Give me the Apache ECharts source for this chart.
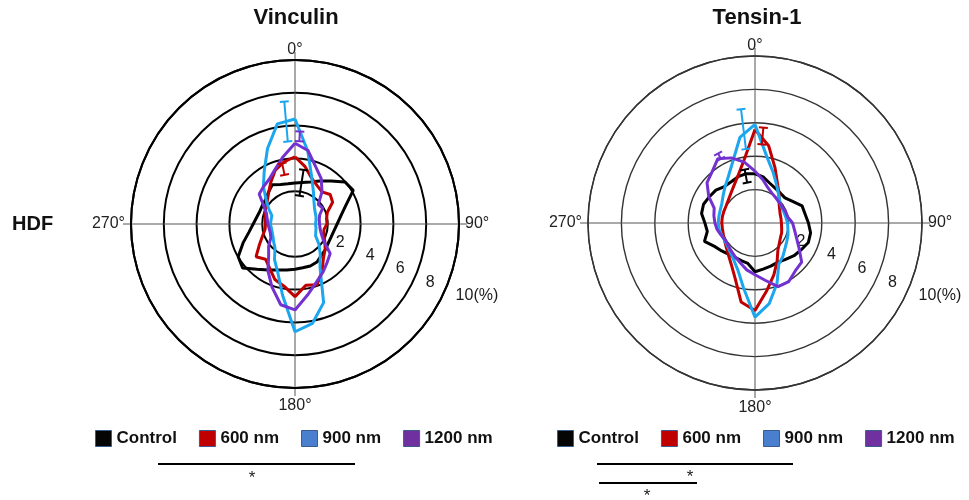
<!DOCTYPE html>
<html><head><meta charset="utf-8">
<script src="https://cdn.jsdelivr.net/npm/echarts@6/dist/echarts.min.js"></script>
<style>html,body{margin:0;padding:0;background:#fff}#c{width:969px;height:500px}</style>
</head><body><div id="c"></div>
<script>
// ---------- data ----------
const angles = [0,10,20,30,40,50,60,70,80,90,100,110,120,130,140,150,160,170,180,190,200,210,220,230,240,250,260,270,280,290,300,310,320,330,340,350];
const seriesNames = ['Control','600 nm','900 nm','1200 nm'];

// Vinculin (percent at each angle)
const vinControl = [2.50,2.57,2.72,3.03,3.42,3.98,4.10,3.29,2.84,2.57,2.41,2.34,2.34,2.42,2.50,2.68,2.73,2.71,2.76,2.85,2.98,3.24,3.60,4.17,4.00,3.37,2.85,2.55,2.37,2.28,2.29,2.34,2.52,2.77,2.57,2.49];
const vin600 = [4.1,3.55,2.97,2.7,2.56,2.8,2.65,2.1,1.95,1.95,1.8,1.85,2.1,2.4,2.7,3.3,3.95,3.8,4.43,3.85,3.6,3.1,2.8,3.1,2.5,2.1,1.85,1.8,1.85,1.95,2.05,2.2,2.5,2.95,3.5,3.85];
const vin900 = [6.4,4.5,3.0,2.25,1.8,1.55,1.42,1.36,1.3,1.25,1.3,1.35,1.45,1.9,2.4,3.05,5.1,6.15,6.57,4.4,3.1,2.5,1.9,1.7,1.55,1.48,1.46,1.5,1.48,1.5,1.85,2.3,3.0,3.75,4.9,6.2];
const vin1200 = [4.92,4.55,3.7,3.2,2.56,1.85,1.95,1.6,1.5,1.5,1.55,1.7,2.0,2.8,3.05,3.4,3.79,4.4,5.24,5.0,4.1,3.3,2.5,2.1,1.7,1.6,1.6,1.65,1.72,1.85,2.2,2.85,2.98,3.15,3.55,4.17];

// Tensin-1
const tenControl = [2.95,2.8,2.55,2.41,2.35,2.34,2.6,3.0,3.05,3.2,3.38,3.4,3.2,3.05,2.85,2.72,2.75,2.8,2.92,2.46,2.4,2.38,2.45,2.6,2.8,3.22,2.9,3.0,3.25,3.28,3.15,3.06,2.85,2.85,2.95,3.0];
const ten600 = [5.6,4.7,3.51,2.7,2.25,1.88,1.7,1.6,1.58,1.58,1.62,1.7,1.76,1.9,2.13,2.65,3.3,4.1,5.24,4.8,3.5,2.85,2.48,2.25,2.1,2.02,1.98,1.99,1.99,1.99,2.01,2.1,2.27,2.55,3.0,3.81];
const ten900 = [5.9,4.05,3.2,2.6,2.2,1.95,1.85,1.85,1.88,1.95,2.0,2.1,2.2,2.35,2.6,2.85,3.85,4.9,5.64,3.95,3.0,2.55,2.3,2.15,2.1,2.12,2.18,2.2,2.2,2.22,2.3,2.5,2.8,3.2,3.9,5.2];
const ten1200 = [3.1,2.65,2.25,2.05,1.95,1.9,1.9,1.95,2.0,2.25,2.4,2.65,3.05,3.65,3.75,4.05,4.05,3.48,3.1,2.85,2.55,2.35,2.2,2.1,2.05,2.15,2.3,2.4,2.5,2.6,3.2,3.75,4.0,4.45,4.15,3.7];

// error bars: angle, centre value, half-range (per series order)
const vinErrAngle = [9, 348, 355, 3];
const vinErrMid = [2.54, 3.42, 6.27, 5.35];
const vinErrHalf = [0.8, 0.36, 1.22, 0.3];
const tenErrAngle = [349, 5, 353, 332];
const tenErrMid = [2.86, 5.23, 5.66, 4.53];
const tenErrHalf = [0.4, 0.5, 1.2, 0.18];

// axis labels
const ringValues = [2, 4, 6, 8, 10];
const ringLabels = ['2', '4', '6', '8', '10(%)'];
const angleTicks = [0, 90, 180, 270];

// ---------- styles ----------
const lineColors = ['#000000', '#C00000', '#1CA6EE', '#7332D0'];
const legendColors = ['#050505', '#C00000', '#4A7FD0', '#7030A0'];
const FONT = 'Liberation Sans';

const chart = echarts.init(document.getElementById('c'));

function closeLoop(vals) {
  const d = vals.map((v, i) => [v, angles[i]]);
  d.push([vals[0], 360]);
  return d;
}

function angleLabel(v) {
  if (v === 0) return '{t|0°}';
  if (v === 180) return '{b|180°}';
  if (v === 90 || v === 270) return '{h|' + v + '°}';
  return '';
}

function makeAngleAxis(idx, ringW, ringC) {
  return {
    polarIndex: idx, type: 'value', min: 0, max: 360, interval: 90,
    startAngle: 90, clockwise: true,
    axisLine: { lineStyle: { color: ringC, width: ringW } },
    axisTick: { show: true, length: 8, lineStyle: { color: '#555', width: 1 } },
    splitLine: { show: true, lineStyle: { color: '#555', width: 1 } },
    axisLabel: {
      margin: 2, fontSize: 16, color: '#222', fontFamily: FONT,
      formatter: angleLabel,
      rich: {
        t: { fontSize: 16, color: '#222', fontFamily: FONT, padding: [0, 0, 0, 0] },
        b: { fontSize: 16, color: '#222', fontFamily: FONT, padding: [8, 0, 0, 0] },
        h: { fontSize: 16, color: '#222', fontFamily: FONT, padding: [0, 4, 0, 4] }
      }
    }
  };
}
function makeRadiusAxis(idx, ringW, ringC) {
  return {
    polarIndex: idx, min: 0, max: 10, interval: 2,
    axisLine: { show: false }, axisTick: { show: false }, axisLabel: { show: false },
    splitLine: { show: true, lineStyle: { color: ringC, width: ringW } }
  };
}

function lineSeries(name, vals, idx, ci) {
  return {
    name, type: 'line', coordinateSystem: 'polar', polarIndex: idx,
    data: closeLoop(vals), symbol: 'none', smooth: false,
    lineStyle: { color: lineColors[ci], width: 3 },
    itemStyle: { color: lineColors[ci] }, z: 3 + ci * 0.1
  };
}

function errSeries(idx, ang, mid, half) {
  return {
    type: 'custom', coordinateSystem: 'polar', polarIndex: idx, z: 5,
    data: ang.map((a, i) => [mid[i], a, half[i], i]),
    renderItem: function (params, api) {
      const a = api.value(1), m = api.value(0), h = api.value(2), ci = api.value(3);
      const p1 = api.coord([m - h, a]);
      const p2 = api.coord([m + h, a]);
      const dx = p2[0] - p1[0], dy = p2[1] - p1[1];
      const L = Math.hypot(dx, dy) || 1;
      const nx = -dy / L * 4.5, ny = dx / L * 4.5;
      const st = { stroke: lineColors[ci], lineWidth: 2 };
      return { type: 'group', children: [
        { type: 'line', shape: { x1: p1[0], y1: p1[1], x2: p2[0], y2: p2[1] }, style: st },
        { type: 'line', shape: { x1: p1[0] - nx, y1: p1[1] - ny, x2: p1[0] + nx, y2: p1[1] + ny }, style: st },
        { type: 'line', shape: { x1: p2[0] - nx, y1: p2[1] - ny, x2: p2[0] + nx, y2: p2[1] + ny }, style: st }
      ] };
    }
  };
}

function ringLabelSeries(idx) {
  return {
    type: 'scatter', coordinateSystem: 'polar', polarIndex: idx, symbolSize: 0, silent: true, clip: false,
    itemStyle: { opacity: 1 },
    data: ringValues.map((v, i) => ({ value: [v + 0.72, 114], label: { formatter: ringLabels[i] } })),
    label: { show: true, position: 'right', distance: 0, fontSize: 16, color: '#1a1a1a', fontFamily: FONT, opacity: 1 }
  };
}

function legendCfg(left) {
  return {
    left: left, top: 425, icon: 'rect', itemWidth: 16, itemHeight: 16, itemGap: 22,
    selectedMode: false,
    textStyle: { fontSize: 17, fontWeight: 'bold', color: '#111', fontFamily: FONT },
    data: seriesNames.map((n, i) => ({ name: n, itemStyle: { color: legendColors[i], borderColor: '#3A5C8C', borderWidth: 1 } }))
  };
}

const option = {
  backgroundColor: '#fff',
  animation: false,
  polar: [
    { center: [295, 224], radius: 164 },
    { center: [755, 223], radius: 167 }
  ],
  angleAxis: [makeAngleAxis(0, 2, '#000'), makeAngleAxis(1, 1.4, '#333')],
  radiusAxis: [makeRadiusAxis(0, 2, '#000'), makeRadiusAxis(1, 1.4, '#333')],
  legend: [legendCfg(90), legendCfg(552)],
  series: [
    lineSeries(seriesNames[0], vinControl, 0, 0),
    lineSeries(seriesNames[1], vin600, 0, 1),
    lineSeries(seriesNames[2], vin900, 0, 2),
    lineSeries(seriesNames[3], vin1200, 0, 3),
    lineSeries(seriesNames[0], tenControl, 1, 0),
    lineSeries(seriesNames[1], ten600, 1, 1),
    lineSeries(seriesNames[2], ten900, 1, 2),
    lineSeries(seriesNames[3], ten1200, 1, 3),
    errSeries(0, vinErrAngle, vinErrMid, vinErrHalf),
    errSeries(1, tenErrAngle, tenErrMid, tenErrHalf),
    ringLabelSeries(0),
    ringLabelSeries(1)
  ],
  graphic: [
    { type: 'text', x: 296, y: 18, style: { text: 'Vinculin', fontSize: 22, fontWeight: 'bold', fontFamily: FONT, fill: '#111', align: 'center', verticalAlign: 'middle' } },
    { type: 'text', x: 757, y: 18, style: { text: 'Tensin-1', fontSize: 22, fontWeight: 'bold', fontFamily: FONT, fill: '#111', align: 'center', verticalAlign: 'middle' } },
    { type: 'text', x: 12, y: 224, style: { text: 'HDF', fontSize: 20, fontWeight: 'bold', fontFamily: FONT, fill: '#111', align: 'left', verticalAlign: 'middle' } },
    { type: 'line', shape: { x1: 158, y1: 464, x2: 355, y2: 464 }, style: { stroke: '#000', lineWidth: 2 } },
    { type: 'text', x: 252, y: 478, style: { text: '*', fontSize: 17, fontFamily: FONT, fill: '#222', align: 'center', verticalAlign: 'middle' } },
    { type: 'line', shape: { x1: 597, y1: 464, x2: 793, y2: 464 }, style: { stroke: '#000', lineWidth: 2 } },
    { type: 'text', x: 690, y: 477, style: { text: '*', fontSize: 17, fontFamily: FONT, fill: '#222', align: 'center', verticalAlign: 'middle' } },
    { type: 'line', shape: { x1: 599, y1: 483, x2: 697, y2: 483 }, style: { stroke: '#000', lineWidth: 2 } },
    { type: 'text', x: 647, y: 496, style: { text: '*', fontSize: 17, fontFamily: FONT, fill: '#222', align: 'center', verticalAlign: 'middle' } }
  ]
};
chart.setOption(option);
</script>
</body></html>
